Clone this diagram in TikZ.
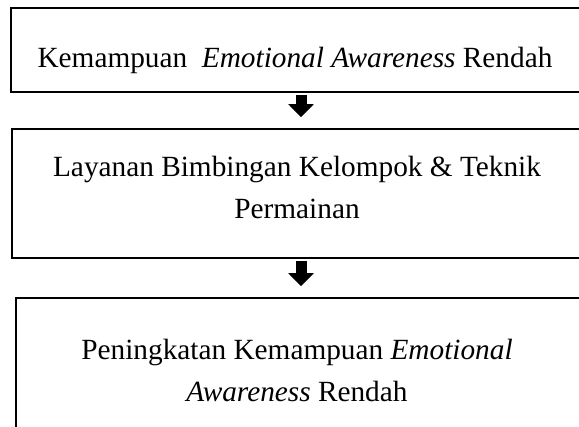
\documentclass[tikz,border=0pt]{standalone}
\usepackage{fontspec}
\setmainfont{Liberation Serif}
\usetikzlibrary{arrows.meta}

\providecommand{\stagefont}{\fontsize{29.3pt}{42pt}\selectfont}
\tikzset{
  stagebox/.style={draw,line width=1.8pt,inner sep=0,minimum width=#1},
  stagetext/.style={align=center,inner sep=0,font=\stagefont},
  fatarrow/.style={line width=11pt,-{Triangle[width=25pt,length=13pt]},shorten <=2.5pt,shorten >=11pt}
}

\begin{document}
\begin{tikzpicture}[x=1pt,y=-1pt]
    \pgfmathsetmacro{\midx}{301}
    \useasboundingbox (0,0) rectangle (579,427);
    \clip (0,0) rectangle (579,427);
    % the three stages
    \node[stagebox=580pt,minimum height=84pt] (awal) at (\midx,50) {};
    \node[stagebox=578pt,minimum height=129pt] (layanan) at (\midx,193.5) {};
    \node[stagebox=570pt,minimum height=146pt] (hasil) at (\midx,371) {};
    \node[stagetext] (awaltext) at (295,60) {Kemampuan\ \ \textit{Emotional Awareness} Rendah};
    \node[stagetext] (layanantext) at (297,187) {Layanan Bimbingan Kelompok \& Teknik\\Permainan};
    \node[stagetext] (hasiltext) at (297,370) {Peningkatan Kemampuan \textit{Emotional}\\\textit{Awareness} Rendah};
    % arrows
    \draw[fatarrow] (awal.south) -- (layanan.north);
    \draw[fatarrow] (layanan.south) -- (hasil.north);
\end{tikzpicture}
\end{document}
